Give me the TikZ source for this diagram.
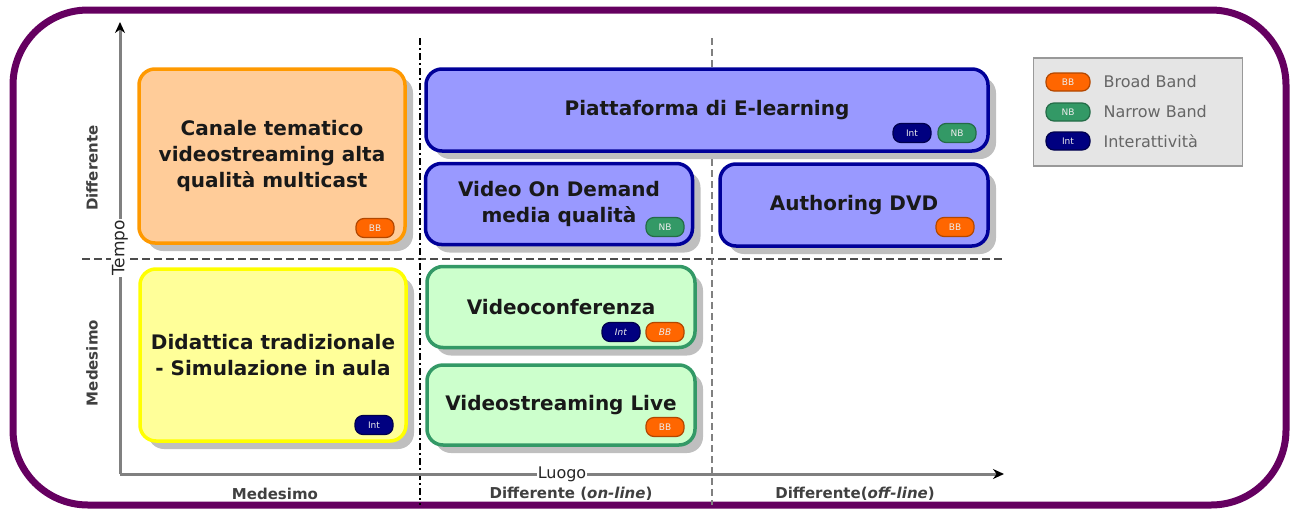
\documentclass[tikz,border=0pt]{standalone}
\usepackage{fontspec}
\setmainfont{DejaVu Sans}
\usetikzlibrary{shadows,arrows.meta}

\definecolor{framecol}{HTML}{650060}
\definecolor{peachfill}{HTML}{FFCC99}
\definecolor{peachline}{HTML}{FF9900}
\definecolor{lilacfill}{HTML}{9999FF}
\definecolor{lilacline}{HTML}{000099}
\definecolor{lemonfill}{HTML}{FFFF99}
\definecolor{lemonline}{HTML}{FFFF00}
\definecolor{mintfill}{HTML}{CCFFCC}
\definecolor{mintline}{HTML}{339966}
\definecolor{bbcol}{HTML}{FF6600}
\definecolor{nbcol}{HTML}{339966}
\definecolor{intcol}{HTML}{000080}
\definecolor{axiscol}{HTML}{808080}

\tikzset{
  cellbox/.style={rounded corners=16pt,line width=3.5pt,align=center,
    font=\fontsize{20}{26}\selectfont\bfseries,text=black!90,
    drop shadow={shadow xshift=8pt,shadow yshift=-8pt,fill=black!25,opacity=1}},
  peachbox/.style={cellbox,fill=peachfill,draw=peachline},
  lilacbox/.style={cellbox,fill=lilacfill,draw=lilacline},
  lemonbox/.style={cellbox,fill=lemonfill,draw=lemonline},
  mintbox/.style={cellbox,fill=mintfill,draw=mintline},
  badge/.style={rounded corners=8pt,minimum width=38pt,minimum height=19pt,
    inner sep=0pt,line width=1.2pt,font=\fontsize{9}{9}\selectfont,text=white!85!gray},
  bbbadge/.style={badge,fill=bbcol,draw=bbcol!70!black},
  nbbadge/.style={badge,fill=nbcol,draw=nbcol!70!black},
  intbadge/.style={badge,fill=intcol,draw=intcol!60!black},
  axisline/.style={draw=axiscol,line width=3pt,
    -{Stealth[color=black,length=11pt,width=10pt]}},
  axislabel/.style={font=\fontsize{15}{15}\selectfont\bfseries,text=black!75},
  legendtext/.style={font=\fontsize{16}{16}\selectfont,text=black!60,anchor=west}
}

\begin{document}
\begin{tikzpicture}[x=1pt,y=-1pt]

  \useasboundingbox (0,0) rectangle (1290,509);

  % outer frame
  \draw[framecol,line width=7pt,rounded corners=75pt] (13,10) rectangle (1286,505);

  % grid lines
  \draw[black!70,line width=1.3pt,dash pattern=on 8pt off 4pt] (82,259) -- (1005,259);
  \draw[black,line width=1.3pt,dash pattern=on 7pt off 3pt on 2pt off 3pt] (420,38) -- (420,505);
  \draw[black!50,line width=2pt,dash pattern=on 7pt off 4pt] (712,38) -- (712,505);

  % axes
  \coordinate (origin) at (120,474);
  \coordinate (ytop) at (120,22);
  \coordinate (xend) at (1004,474);
  \draw[axisline] (origin) -- (ytop);
  \draw[axisline] (origin) -- (xend);
  \node[fill=white,inner sep=1pt,rotate=90,font=\fontsize{17}{17}\selectfont,text=black!85] (tempo) at (120,248) {Tempo};
  \node[fill=white,inner sep=1pt,font=\fontsize{16}{16}\selectfont,text=black!85] (luogo) at (562,474) {Luogo};

  \node[axislabel,rotate=90] (tdiff) at (92,168) {Differente};
  \node[axislabel,rotate=90] (tmed) at (92,363) {Medesimo};
  \node[axislabel] (lmed) at (275,494) {Medesimo};
  \node[axislabel] (lon) at (571,494) {Differente (\textit{on-line})};
  \node[axislabel] (loff) at (855,494) {Differente(\textit{off-line})};

  % boxes
  \node[peachbox,minimum width=266pt,minimum height=174pt] (canale) at (272,156)
    {Canale tematico\\videostreaming alta\\qualità multicast};
  \node[lilacbox,minimum width=562pt,minimum height=82pt] (elearn) at (707,110)
    {Piattaforma di E-learning};
  \node[lilacbox,minimum width=267pt,minimum height=81pt] (vod) at (559,204)
    {Video On Demand\\media qualità};
  \node[lilacbox,minimum width=268pt,minimum height=82pt] (dvd) at (854,205)
    {Authoring DVD};
  \node[lemonbox,minimum width=266pt,minimum height=172pt] (didattica) at (273,355)
    {Didattica tradizionale\\- Simulazione in aula};
  \node[mintbox,minimum width=268pt,minimum height=81pt] (vconf) at (561,307)
    {Videoconferenza};
  \node[mintbox,minimum width=268pt,minimum height=80pt] (vlive) at (561,405)
    {Videostreaming Live};

  % badges
  \node[bbbadge] (canaleBB) at (375,228) {BB};
  \node[intbadge] (elearnInt) at (912,133) {Int};
  \node[nbbadge] (elearnNB) at (957,133) {NB};
  \node[nbbadge] (vodNB) at (665,227) {NB};
  \node[bbbadge] (dvdBB) at (955,227) {BB};
  \node[intbadge] (didatticaInt) at (374,425) {Int};
  \node[intbadge] (vconfInt) at (621,332) {\textit{Int}};
  \node[bbbadge] (vconfBB) at (665,332) {\textit{BB}};
  \node[bbbadge] (vliveBB) at (665,427) {BB};

  % legend
  \node[draw=black!40,fill=black!10,line width=1.5pt,minimum width=209pt,minimum height=108pt] (legend) at (1138,112) {};
  \node[bbbadge,minimum width=44pt,minimum height=18pt] (keyBB) at (1068,82) {BB};
  \node[nbbadge,minimum width=44pt,minimum height=18pt] (keyNB) at (1068,112) {NB};
  \node[intbadge,minimum width=44pt,minimum height=18pt] (keyInt) at (1068,141) {Int};
  \node[legendtext] (keyBBtext) at (1100,82) {Broad Band};
  \node[legendtext] (keyNBtext) at (1100,112) {Narrow Band};
  \node[legendtext] (keyInttext) at (1100,141) {Interattività};

\end{tikzpicture}
\end{document}
